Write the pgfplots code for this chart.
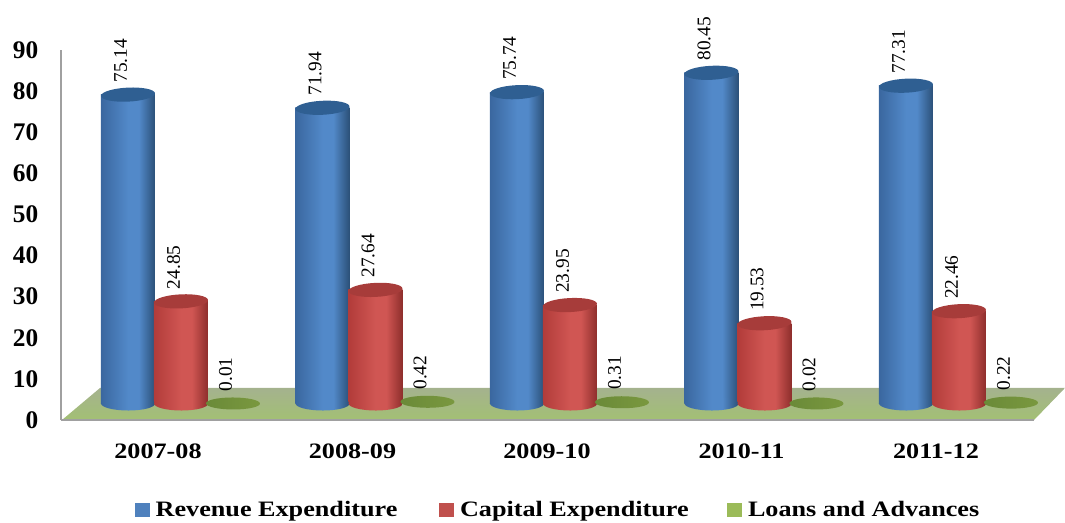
\documentclass[border=0pt]{standalone}
\usepackage{fontspec}
\setmainfont{Liberation Serif}
\newfontfamily\xfont[FakeStretch=1.19]{Liberation Serif}
\usepackage{pgfplots}
\pgfplotsset{compat=1.18}
\definecolor{bL}{HTML}{3A679F}\definecolor{bM}{HTML}{5289C9}\definecolor{bR}{HTML}{2B5078}\definecolor{bT}{HTML}{2F5F92}
\definecolor{rL}{HTML}{B23C3A}\definecolor{rM}{HTML}{D05653}\definecolor{rR}{HTML}{8E2E2C}\definecolor{rT}{HTML}{A73C3A}
\definecolor{gL}{HTML}{6A8A38}\definecolor{gR}{HTML}{7A983F}
\definecolor{floorA}{HTML}{A4B28E}\definecolor{floorB}{HTML}{A3C074}
\definecolor{axgray}{HTML}{A0A0A0}
\definecolor{legB}{HTML}{4F81BD}\definecolor{legR}{HTML}{C0504D}\definecolor{legG}{HTML}{9BBB59}
\pgfdeclarehorizontalshading{blueh}{100bp}{color(0bp)=(bL); color(25bp)=(bL); color(50bp)=(bM); color(60bp)=(bM); color(75bp)=(bR); color(100bp)=(bR)}
\pgfdeclarehorizontalshading{redh}{100bp}{color(0bp)=(rL); color(25bp)=(rL); color(50bp)=(rM); color(60bp)=(rM); color(75bp)=(rR); color(100bp)=(rR)}
\pgfdeclarehorizontalshading{greenh}{100bp}{color(0bp)=(gL); color(25bp)=(gL); color(75bp)=(gR); color(100bp)=(gR)}
\newcommand{\ellp}[3]{\pgfpathellipse{\pgfpointorigin}{\pgfqpoint{#1}{#3}}{\pgfqpoint{-0.3pt}{#2}}}
\pgfdeclareplotmark{topB}{\pgfsetfillcolor{bT}\ellp{20.25pt}{5.25pt}{1pt}\pgfusepathqfill}
\pgfdeclareplotmark{topR}{\pgfsetfillcolor{rT}\ellp{20.25pt}{5.25pt}{1pt}\pgfusepathqfill}
\pgfdeclareplotmark{botB}{\ellp{20.25pt}{5.25pt}{0pt}\pgfshadepath{blueh}{0}\pgfusepath{discard}}
\pgfdeclareplotmark{botR}{\ellp{20.25pt}{5.25pt}{0pt}\pgfshadepath{redh}{0}\pgfusepath{discard}}
\pgfdeclareplotmark{ellG}{\ellp{20.25pt}{4.5pt}{0pt}\pgfshadepath{greenh}{0}\pgfusepath{discard}}
\pgfplotsset{
  base/.style={scale only axis,width=729.75pt,height=277.5pt,xmin=-0.4987,xmax=4.504,
    anchor=south west,at={(45.75pt,76.5pt)}},
  lab/.style={only marks,mark options={xshift=#1},
    point meta=y,nodes near coords,
    nodes near coords style={anchor=west,inner sep=0pt,text=black,
      font=\fontsize{14.5pt}{14.5pt}\selectfont,
      /pgf/number format/.cd,fixed,fixed zerofill,precision=2,assume math mode=true,/tikz/.cd,
      xshift=-5.5pt,yshift=9pt,rotate=90}},
  bB/.style={ybar,bar width=40.5pt,bar shift=-22.5pt,draw=none,shade,shading=blueh},
  bR/.style={ybar,bar width=40.5pt,bar shift=17.25pt,draw=none,shade,shading=redh},
}
\newcommand{\revbar}[2]{\addplot[forget plot,only marks,mark=botB,mark options={xshift=-22.5pt}] coordinates {(#1,0)};
  \addplot[forget plot,bB] coordinates {(#1,#2)};
  \addplot[forget plot,mark=topB,lab=-22.5pt] coordinates {(#1,#2)};}
\newcommand{\capbar}[2]{\addplot[forget plot,only marks,mark=botR,mark options={xshift=17.25pt}] coordinates {(#1,0)};
  \addplot[forget plot,bR] coordinates {(#1,#2)};
  \addplot[forget plot,mark=topR,lab=17.25pt] coordinates {(#1,#2)};}
\begin{document}
\begin{tikzpicture}
\path[use as bounding box] (0,0) rectangle (798.75pt,391.5pt);
\shade[top color=floorA,bottom color=floorB] (46.5pt,76.5pt)--(75pt,100.5pt)--(798.75pt,100.5pt)--(775.5pt,76.5pt)--cycle;
\begin{axis}[base,ymin=0,ymax=90,
  axis x line=bottom,axis y line=left,axis line style={axgray,line width=1.5pt,-},
  major tick length=0pt,
  xtick={0,1,2,3,4},xticklabels={2007-08,2008-09,2009-10,2010-11,2011-12},
  ytick={0,10,...,90},
  /pgf/number format/assume math mode=true,
  yticklabel style={font=\bfseries\fontsize{19pt}{19pt}\selectfont,xshift=-13.5pt},
  xticklabel style={font=\xfont\bfseries\fontsize{16.5pt}{16.5pt}\selectfont,yshift=-14pt},
]
\end{axis}
\begin{axis}[base,ymin=-4.01,ymax=85.99,hide axis,clip=false,
  legend columns=3,
  legend style={draw=none,fill=none,at={(0.0758,-0.243)},anchor=west,inner sep=0pt,
    font=\xfont\bfseries\fontsize{16.5pt}{16.5pt}\selectfont,
    /tikz/column 2/.style={column sep=29.5pt},/tikz/column 4/.style={column sep=27pt}},
  legend cell align=left,
]
% Revenue Expenditure
\revbar{0}{75.14}\revbar{1}{71.94}\revbar{2}{75.74}\revbar{3}{80.45}\revbar{4}{77.31}
% Capital Expenditure
\capbar{0}{24.85}\capbar{1}{27.64}\capbar{2}{23.95}\capbar{3}{19.53}\capbar{4}{22.46}
% Loans and Advances
\addplot[forget plot,mark=ellG,lab=56.25pt]
  coordinates {(0,0.01)(1,0.42)(2,0.31)(3,0.02)(4,0.22)};
\addlegendimage{legend image code/.code={\fill[legB,draw=none] (0pt,-5.5pt) rectangle (11pt,5.5pt);\path[draw=none,fill=none] (0pt,0pt) rectangle (13.5pt,1pt);}}
\addlegendentry{Revenue Expenditure}
\addlegendimage{legend image code/.code={\fill[legR,draw=none] (0pt,-5.5pt) rectangle (11pt,5.5pt);\path[draw=none,fill=none] (0pt,0pt) rectangle (13.5pt,1pt);}}
\addlegendentry{Capital Expenditure}
\addlegendimage{legend image code/.code={\fill[legG,draw=none] (0pt,-5.5pt) rectangle (11pt,5.5pt);\path[draw=none,fill=none] (0pt,0pt) rectangle (13.5pt,1pt);}}
\addlegendentry{Loans and Advances}
\end{axis}
\end{tikzpicture}
\end{document}
